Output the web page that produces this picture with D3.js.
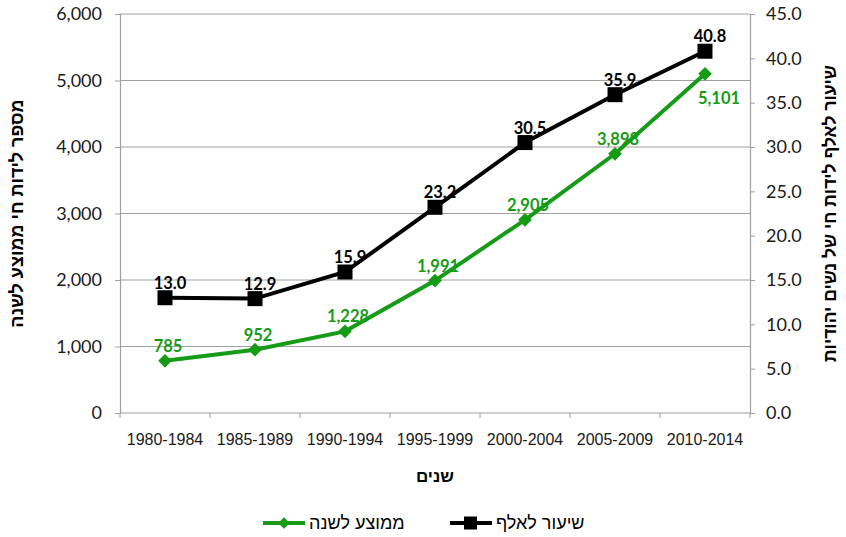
<!DOCTYPE html>
<html>
<head>
<meta charset="utf-8">
<script src="https://cdn.jsdelivr.net/npm/d3@7"></script>
<style>
  body { margin: 0; background: #fff; }
  svg { display: block; }
</style>
</head>
<body>
<svg id="chart" width="846" height="537"></svg>
<script>
// data
let periods = ['1980-1984', '1985-1989', '1990-1994', '1995-1999', '2000-2004', '2005-2009', '2010-2014'];
let avgPerYear = [785, 952, 1228, 1991, 2905, 3898, 5101];
let ratePerThousand = [13.0, 12.9, 15.9, 23.2, 30.5, 35.9, 40.8];
let leftTicks = [0, 1000, 2000, 3000, 4000, 5000, 6000];
let rightTicks = [0, 5, 10, 15, 20, 25, 30, 35, 40, 45];

let avgName = 'ממוצע לשנה';
let rateName = 'שיעור לאלף';
let leftTitle = 'מספר לידות חי ממוצע לשנה';
let rightTitle = 'שיעור לאלף לידות חי של נשים יהודיות';
let xTitle = 'שנים';

function drawChart(){
    let svg = d3.select('#chart');

    // plot area
    let margL = 120;
    let margR = 96;
    let margT = 14;
    let width = 846;
    let plotBottom = 413;

    let green = '#169b16';
    let gridCol = '#a0a0a0';
    let numFont = 'Lato, "Open Sans", sans-serif';
    let hebFont = '"Liberation Sans", "DejaVu Sans", Arial, sans-serif';

    let xScale = d3.scaleBand()
                    .domain(periods)
                    .range([margL, width - margR])
                    .padding(0);
    let yLeft = d3.scaleLinear()
                    .domain([0, 6000])
                    .range([plotBottom, margT]);
    let yRight = d3.scaleLinear()
                    .domain([0, 45])
                    .range([plotBottom, margT]);

    let xMid = function(d){ return xScale(d) + xScale.bandwidth() / 2; };

    // gridlines
    svg.append('g')
        .attr('class', 'grid')
        .selectAll('line')
        .data(leftTicks.filter(t => t > 0))
        .enter()
        .append('line')
        .attr('x1', margL)
        .attr('x2', width - margR)
        .attr('y1', d => yLeft(d))
        .attr('y2', d => yLeft(d))
        .attr('stroke', gridCol)
        .attr('stroke-width', 1);

    // left axis
    let leftAxis = svg.append('g')
        .attr('transform', 'translate(' + margL + ',0)')
        .call(d3.axisLeft(yLeft).tickValues(leftTicks).tickFormat(d3.format(',')).tickSize(5).tickPadding(13));

    // right axis
    let rightAxis = svg.append('g')
        .attr('transform', 'translate(' + (width - margR) + ',0)')
        .call(d3.axisRight(yRight).tickValues(rightTicks).tickFormat(d3.format('.1f')).tickSize(5).tickPadding(11));

    // bottom axis, ticks at category boundaries
    let bottomAxis = svg.append('g')
        .attr('transform', 'translate(0,' + plotBottom + ')')
        .call(d3.axisBottom(xScale).tickSize(0).tickPadding(21));
    bottomAxis.selectAll('.boundTick')
        .data(periods.concat(['end']))
        .enter()
        .append('line')
        .attr('class', 'boundTick')
        .attr('x1', (d, i) => margL + i * xScale.bandwidth())
        .attr('x2', (d, i) => margL + i * xScale.bandwidth())
        .attr('y1', 0)
        .attr('y2', 5)
        .attr('stroke', gridCol);

    [leftAxis, rightAxis, bottomAxis].forEach(function(ax){
        ax.select('.domain').attr('stroke', gridCol).attr('stroke-width', 1.2);
        ax.selectAll('.tick line').attr('stroke', gridCol);
        ax.selectAll('text').attr('fill', '#1a1a1a');
    });
    bottomAxis.select('.domain').attr('d', 'M' + margL + ',0H' + (width - margR));
    leftAxis.selectAll('text').style('font-family', numFont).style('font-size', '18px');
    rightAxis.selectAll('text').style('font-family', numFont).style('font-size', '18px');
    bottomAxis.selectAll('text').style('font-family', hebFont).style('font-size', '16px');

    // lines
    let avgLine = d3.line()
        .x((d, i) => xMid(periods[i]))
        .y(d => yLeft(d));
    let rateLine = d3.line()
        .x((d, i) => xMid(periods[i]))
        .y(d => yRight(d));

    svg.append('path')
        .datum(ratePerThousand)
        .attr('d', rateLine)
        .attr('fill', 'none')
        .attr('stroke', '#000')
        .attr('stroke-width', 4);
    svg.append('path')
        .datum(avgPerYear)
        .attr('d', avgLine)
        .attr('fill', 'none')
        .attr('stroke', green)
        .attr('stroke-width', 4);

    // markers
    svg.append('g')
        .selectAll('rect')
        .data(ratePerThousand)
        .enter()
        .append('rect')
        .attr('x', (d, i) => xMid(periods[i]) - 7.5)
        .attr('y', d => yRight(d) - 7.5)
        .attr('width', 15)
        .attr('height', 15)
        .attr('fill', '#000');
    let diamond = d3.symbol().type(d3.symbolDiamond2).size(120);
    svg.append('g')
        .selectAll('path')
        .data(avgPerYear)
        .enter()
        .append('path')
        .attr('d', diamond)
        .attr('transform', (d, i) => 'translate(' + xMid(periods[i]) + ',' + yLeft(d) + ')')
        .attr('fill', green);

    // data labels
    svg.append('g')
        .selectAll('text')
        .data(ratePerThousand)
        .enter()
        .append('text')
        .attr('x', (d, i) => xMid(periods[i]) + 5)
        .attr('y', d => yRight(d) - 9)
        .attr('text-anchor', 'middle')
        .style('font-family', numFont)
        .style('font-size', '16.5px')
        .style('font-weight', 'bold')
        .attr('fill', '#000')
        .text(d => d.toFixed(1));
    svg.append('g')
        .selectAll('text')
        .data(avgPerYear)
        .enter()
        .append('text')
        .attr('x', function(d, i){
            let last = i === avgPerYear.length - 1;
            return xMid(periods[i]) + (last ? 14 : 3);
        })
        .attr('y', function(d, i){
            let last = i === avgPerYear.length - 1;
            return yLeft(d) + (last ? 30 : -9);
        })
        .attr('text-anchor', 'middle')
        .style('font-family', numFont)
        .style('font-size', '16.5px')
        .style('font-weight', 'bold')
        .attr('fill', green)
        .text(d => d3.format(',')(d));

    // axis titles
    svg.append('text')
        .attr('transform', 'translate(23,' + ((margT + plotBottom) / 2) + ') rotate(-90)')
        .attr('text-anchor', 'middle')
        .style('font-family', hebFont)
        .style('font-size', '18px')
        .style('font-weight', 'bold')
        .text(leftTitle);
    svg.append('text')
        .attr('transform', 'translate(836,' + ((margT + plotBottom) / 2) + ') rotate(-90)')
        .attr('text-anchor', 'middle')
        .style('font-family', hebFont)
        .style('font-size', '17.5px')
        .style('font-weight', 'bold')
        .text(rightTitle);
    svg.append('text')
        .attr('x', xScale.range()[0] + (xScale.range()[1] - xScale.range()[0]) / 2)
        .attr('y', 482)
        .attr('text-anchor', 'middle')
        .style('font-family', hebFont)
        .style('font-size', '17px')
        .style('font-weight', 'bold')
        .text(xTitle);

    // legend
    let legend = svg.append('g').attr('class', 'legendGrp');
    let legendItems = [
        {name: avgName, color: green, shape: 'diamond', x0: 263},
        {name: rateName, color: '#000', shape: 'square', x0: 450}
    ];
    legendItems.forEach(function(it){
        let ly = 523;
        legend.append('line')
            .attr('x1', it.x0)
            .attr('x2', it.x0 + 42)
            .attr('y1', ly)
            .attr('y2', ly)
            .attr('stroke', it.color)
            .attr('stroke-width', 4);
        if (it.shape === 'diamond'){
            legend.append('path')
                .attr('d', d3.symbol().type(d3.symbolDiamond2).size(85))
                .attr('transform', 'translate(' + (it.x0 + 21) + ',' + ly + ')')
                .attr('fill', it.color);
        } else {
            legend.append('rect')
                .attr('x', it.x0 + 14)
                .attr('y', ly - 6.5)
                .attr('width', 13)
                .attr('height', 13)
                .attr('fill', it.color);
        }
        legend.append('text')
            .attr('x', it.x0 + 46)
            .attr('y', ly + 6)
            .attr('text-anchor', 'start')
            .attr('direction', 'ltr')
            .style('font-family', hebFont)
            .style('font-size', '18px')
            .text(it.name);
    });
}

drawChart();
</script>
</body>
</html>
